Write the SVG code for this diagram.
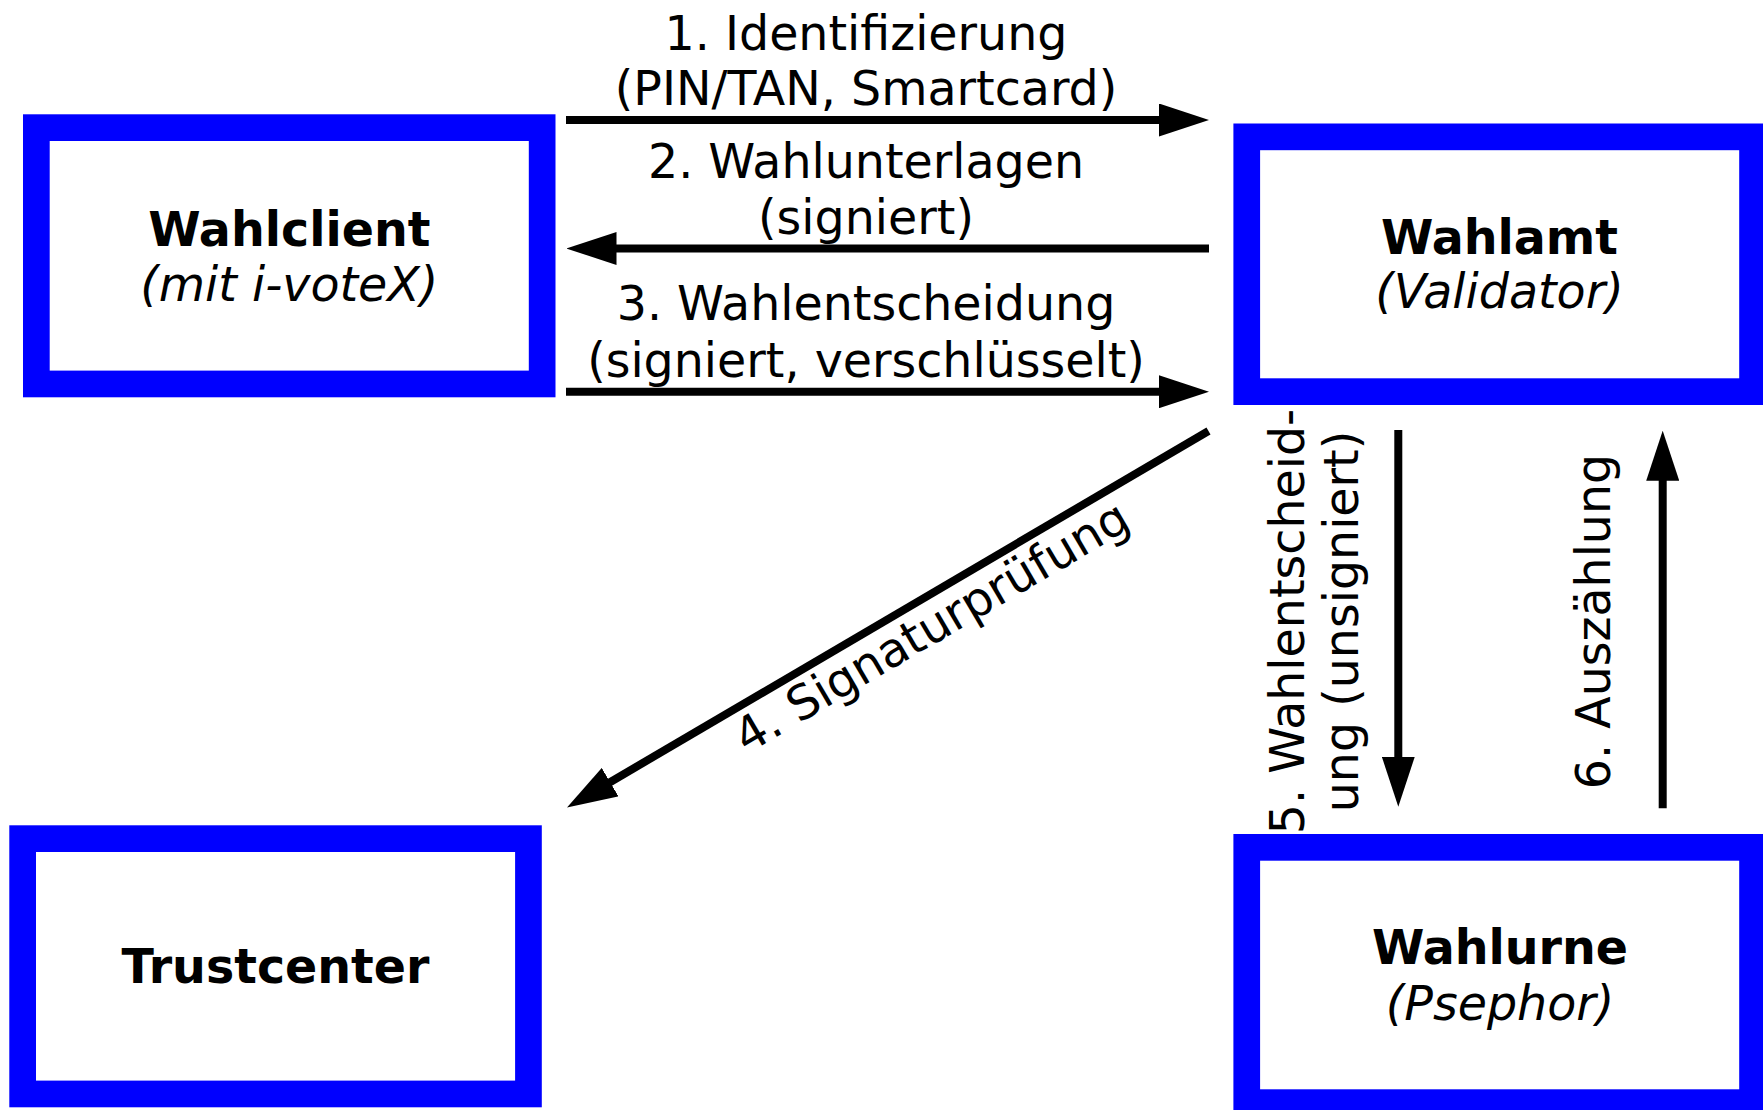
<svg xmlns="http://www.w3.org/2000/svg" width="1763" height="1110" viewBox="0 0 1763 1110">
  <style>
    .box { fill: #ffffff; stroke: #0000ff; stroke-width: 26.7; }
    .t { font-family: "DejaVu Sans", "Liberation Sans", sans-serif; font-size: 47.5px; fill: #000000; text-anchor: middle; }
    .b { font-weight: bold; }
    .i { font-style: italic; }
    .ln { stroke: #000000; stroke-width: 8; fill: none; marker-end: url(#ah); }
  </style>
  <defs>
    <marker id="ah" viewBox="0 0 50 33" markerWidth="50" markerHeight="33" refX="10" refY="16.5" markerUnits="userSpaceOnUse" orient="auto">
      <path d="M0,0 L50,16.5 L0,33 Z" fill="#000000"/>
    </marker>
  </defs>
  <rect x="0" y="0" width="1763" height="1110" fill="#ffffff"/>
  <g id="connectors">
    <line class="ln" x1="566" y1="120" x2="1169" y2="120"/>
    <text class="t" x="866" y="50">1. Identifizierung</text>
    <text class="t" x="866" y="104.5">(PIN/TAN, Smartcard)</text>
    <line class="ln" x1="1209" y1="248.5" x2="606.5" y2="248.5"/>
    <text class="t" x="866" y="177.5">2. Wahlunterlagen</text>
    <text class="t" x="866" y="233.5">(signiert)</text>
    <line class="ln" x1="566" y1="391.7" x2="1169" y2="391.7"/>
    <text class="t" x="866" y="320">3. Wahlentscheidung</text>
    <text class="t" x="866" y="376.5">(signiert, verschlüsselt)</text>
    <line class="ln" x1="1208.5" y1="431" x2="601.5" y2="787.2"/>
    <text class="t" transform="translate(939.8 640.9) rotate(-30.44)" x="0" y="0">4. Signaturprüfung</text>
    <line class="ln" x1="1398.3" y1="430" x2="1398.3" y2="766.7"/>
    <text class="t" transform="translate(1304.4 621.5) rotate(-90)" x="0" y="0">5. Wahlentscheid-</text>
    <text class="t" transform="translate(1357.7 621.5) rotate(-90)" x="0" y="0">ung (unsigniert)</text>
    <line class="ln" x1="1662.7" y1="808.3" x2="1662.7" y2="470.7"/>
    <text class="t" transform="translate(1609.5 621.5) rotate(-90)" x="0" y="0">6. Auszählung</text>
  </g>
  <g id="wahlclient">
    <rect class="box" x="36.35" y="127.65" width="505.8" height="256.3"/>
    <text class="t b" x="289.3" y="245.7">Wahlclient</text>
    <text class="t i" x="289.3" y="301">(mit i-voteX)</text>
  </g>
  <g id="wahlamt">
    <rect class="box" x="1246.75" y="136.85" width="505.8" height="254.8"/>
    <text class="t b" x="1499.5" y="254.3">Wahlamt</text>
    <text class="t i" x="1499.5" y="308.3">(Validator)</text>
  </g>
  <g id="trustcenter">
    <rect class="box" x="22.65" y="838.65" width="505.8" height="255.3"/>
    <text class="t b" x="275.5" y="983.3">Trustcenter</text>
  </g>
  <g id="wahlurne">
    <rect class="box" x="1246.75" y="847.35" width="505.8" height="255.3"/>
    <text class="t b" x="1500" y="964.3">Wahlurne</text>
    <text class="t i" x="1500" y="1020">(Psephor)</text>
  </g>
</svg>
